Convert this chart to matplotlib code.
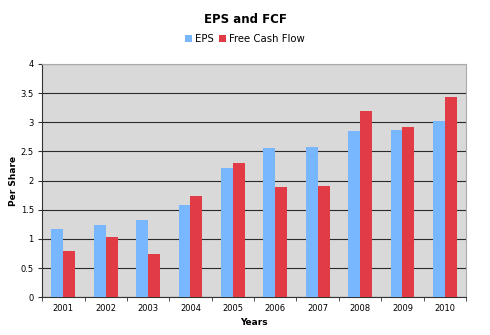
import numpy as np
import matplotlib
matplotlib.use('Agg')
import matplotlib.pyplot as plt

years = ['2001', '2002', '2003', '2004', '2005', '2006', '2007', '2008', '2009', '2010']
eps = [1.17, 1.24, 1.32, 1.58, 2.21, 2.56, 2.58, 2.85, 2.87, 3.02]
fcf = [0.79, 1.03, 0.74, 1.73, 2.30, 1.89, 1.91, 3.19, 2.92, 3.43]

EPS_COLOR = '#78b6fd'
FCF_COLOR = '#e13c45'

fig = plt.figure(figsize=(4.9, 3.35), dpi=100)
ax = fig.add_axes([0.086, 0.113, 0.865, 0.696])

x = np.arange(len(years))
w = 0.28
ax.bar(x - w / 2, eps, w, color=EPS_COLOR, label='EPS', zorder=3)
ax.bar(x + w / 2, fcf, w, color=FCF_COLOR, label='Free Cash Flow', zorder=3)

ax.set_facecolor('#d9d9d9')
ax.set_xlim(-0.5, len(years) - 0.5)
ax.set_ylim(0, 4)
ax.set_yticks(np.arange(0, 4.01, 0.5))
ax.set_yticklabels(['0', '0.5', '1', '1.5', '2', '2.5', '3', '3.5', '4'])
ax.set_xticks(x)
ax.set_xticklabels(years)
ax.set_xticks(np.arange(-0.5, len(years), 1), minor=True)
ax.tick_params(axis='x', which='major', length=0, labelsize=6, pad=5)
ax.tick_params(axis='x', which='minor', length=3, color='#333333')
ax.tick_params(axis='y', length=3, labelsize=6, pad=3, color='#333333')
ax.grid(axis='y', color='#2a2a2a', linewidth=0.8, zorder=1)

for side in ['top', 'right']:
    ax.spines[side].set_color('#aaaaaa')
for side in ['left', 'bottom']:
    ax.spines[side].set_color('#333333')

ax.set_xlabel('Years', fontsize=6.5, fontweight='bold')
ax.set_ylabel('Per Share', fontsize=6.5, fontweight='bold')
ax.xaxis.set_label_coords(0.5, -0.09)
ax.yaxis.set_label_coords(-0.058, 0.5)

fig.suptitle('EPS and FCF', fontsize=8.5, fontweight='bold', y=0.962, x=0.5)
fig.legend(loc='center', bbox_to_anchor=(0.5, 0.883), ncol=2, frameon=False,
           fontsize=7.3, handlelength=0.7, handleheight=0.7, handletextpad=0.3,
           columnspacing=0.5)

fig.savefig('out.png', dpi=100)
